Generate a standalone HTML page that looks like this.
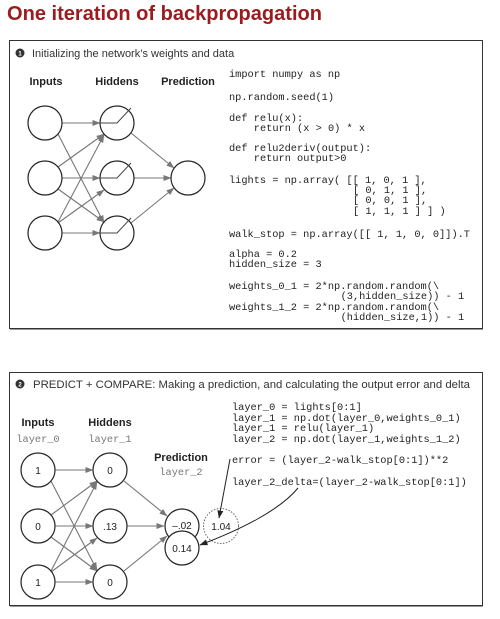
<!DOCTYPE html>
<html><head><meta charset="utf-8"><style>
html,body{margin:0;padding:0;background:#fff;}
svg{display:block;}
.m{font-family:"Liberation Mono",monospace;font-size:10.3px;fill:#222;}
.s{font-family:"Liberation Sans",sans-serif;}
</style></head><body>
<svg width="500" height="619" viewBox="0 0 500 619" xmlns="http://www.w3.org/2000/svg">
<defs>
<marker id="a" markerWidth="8" markerHeight="6" refX="7.5" refY="3" orient="auto" markerUnits="userSpaceOnUse">
<path d="M0,0 L8,3 L0,6 z" fill="#777"/></marker>
<marker id="b" markerWidth="8" markerHeight="6" refX="7.5" refY="3" orient="auto" markerUnits="userSpaceOnUse">
<path d="M0,0 L8,3 L0,6 z" fill="#222"/></marker>
</defs>
<text x="7" y="20" class="s" font-size="20" font-weight="bold" fill="#9b1c1f" textLength="315" lengthAdjust="spacingAndGlyphs">One iteration of backpropagation</text>

<!-- Box 1 -->
<rect x="9.5" y="40.5" width="473" height="288" fill="none" stroke="#333" stroke-width="1"/>
<line x1="10" y1="329.5" x2="483" y2="329.5" stroke="#999" stroke-width="1"/>
<circle cx="20" cy="53" r="4.5" fill="#333"/><text x="20" y="55.5" font-size="6" fill="#fff" text-anchor="middle" class="s" font-weight="bold">1</text>
<text x="32" y="57" class="s" font-size="11" fill="#333">Initializing the network’s weights and data</text>
<g class="s" font-size="11" font-weight="bold" fill="#222" text-anchor="middle">
<text x="46" y="85">Inputs</text><text x="117" y="85">Hiddens</text><text x="188" y="85">Prediction</text></g>
<g stroke="#777" stroke-width="1.1" marker-end="url(#a)">
<line x1="62" y1="123" x2="100" y2="123"/>
<line x1="58" y1="134" x2="104" y2="223"/>
<line x1="58" y1="167" x2="104" y2="134"/>
<line x1="62" y1="178" x2="100" y2="178"/>
<line x1="58" y1="189" x2="104" y2="222"/>
<line x1="58" y1="222" x2="104" y2="135"/>
<line x1="58" y1="223" x2="104" y2="190"/>
<line x1="62" y1="233" x2="100" y2="233"/>
<line x1="131" y1="133" x2="174" y2="168"/>
<line x1="134" y1="178" x2="171" y2="178"/>
<line x1="131" y1="223" x2="174" y2="188"/>
</g>
<g fill="none" stroke="#222" stroke-width="1.2">
<circle cx="45" cy="123" r="17"/><circle cx="45" cy="178" r="17"/><circle cx="45" cy="233" r="17"/>
<circle cx="117" cy="123" r="17"/><circle cx="117" cy="178" r="17"/><circle cx="117" cy="233" r="17"/>
<circle cx="188" cy="178" r="17"/>
</g>
<g fill="none" stroke="#444" stroke-width="1">
<path d="M100,123 H117 L131,108"/><path d="M100,178 H117 L131,163"/><path d="M100,233 H117 L131,218"/>
</g>
<g class="m">
<text x="229" y="77">import numpy as np</text>
<text x="229" y="100">np.random.seed(1)</text>
<text x="229" y="121">def relu(x):</text>
<text x="253.8" y="131">return (x &gt; 0) * x</text>
<text x="229" y="151">def relu2deriv(output):</text>
<text x="253.8" y="161">return output&gt;0</text>
<text x="229" y="183">lights = np.array( [[ 1, 0, 1 ],</text>
<text x="353" y="193">[ 0, 1, 1 ],</text>
<text x="353" y="203">[ 0, 0, 1 ],</text>
<text x="353" y="214">[ 1, 1, 1 ] ] )</text>
<text x="229" y="237">walk_stop = np.array([[ 1, 1, 0, 0]]).T</text>
<text x="229" y="257">alpha = 0.2</text>
<text x="229" y="267">hidden_size = 3</text>
<text x="229" y="289">weights_0_1 = 2*np.random.random(\</text>
<text x="340.6" y="299">(3,hidden_size)) - 1</text>
<text x="229" y="310">weights_1_2 = 2*np.random.random(\</text>
<text x="340.6" y="320">(hidden_size,1)) - 1</text>
</g>

<!-- Box 2 -->
<rect x="9.5" y="372.5" width="473" height="233" fill="none" stroke="#333" stroke-width="1"/>
<line x1="10" y1="606.5" x2="483" y2="606.5" stroke="#999" stroke-width="1"/>
<circle cx="20" cy="384" r="4.5" fill="#333"/><text x="20" y="386.5" font-size="6" fill="#fff" text-anchor="middle" class="s" font-weight="bold">2</text>
<text x="33" y="388" class="s" font-size="11" fill="#333" textLength="437" lengthAdjust="spacingAndGlyphs">PREDICT + COMPARE: Making a prediction, and calculating the output error and delta</text>
<g class="s" font-size="11" font-weight="bold" fill="#222" text-anchor="middle">
<text x="38" y="426">Inputs</text><text x="110" y="426">Hiddens</text><text x="181" y="461">Prediction</text></g>
<g class="m" text-anchor="middle" style="fill:#777">
<text x="38" y="442">layer_0</text><text x="110" y="442">layer_1</text><text x="181" y="475">layer_2</text></g>
<g stroke="#777" stroke-width="1.1" marker-end="url(#a)">
<line x1="55" y1="470" x2="93" y2="470"/>
<line x1="51" y1="481" x2="97" y2="570"/>
<line x1="51" y1="515" x2="97" y2="481"/>
<line x1="55" y1="526" x2="93" y2="526"/>
<line x1="51" y1="537" x2="97" y2="571"/>
<line x1="51" y1="571" x2="97" y2="482"/>
<line x1="51" y1="572" x2="97" y2="538"/>
<line x1="55" y1="582" x2="93" y2="582"/>
<line x1="124" y1="481" x2="167" y2="516"/>
<line x1="127" y1="526" x2="164" y2="526"/>
<line x1="124" y1="571" x2="167" y2="536"/>
</g>
<g fill="#fff" stroke="#222" stroke-width="1.2">
<circle cx="38" cy="470" r="17"/><circle cx="38" cy="526" r="17"/><circle cx="38" cy="582" r="17"/>
<circle cx="110" cy="470" r="17"/><circle cx="110" cy="526" r="17"/><circle cx="110" cy="582" r="17"/>
<circle cx="182" cy="526" r="17"/><circle cx="182" cy="548" r="17"/>
</g>
<circle cx="221" cy="526" r="17.5" fill="none" stroke="#666" stroke-width="1" stroke-dasharray="1.5,1.5"/>
<g class="s" font-size="10" fill="#222" text-anchor="middle">
<text x="38" y="474">1</text><text x="38" y="530">0</text><text x="38" y="586">1</text>
<text x="110" y="474">0</text><text x="110" y="530">.13</text><text x="110" y="586">0</text>
<text x="182" y="529">–.02</text><text x="182" y="552">0.14</text><text x="221" y="530">1.04</text>
</g>
<g fill="none" stroke="#222" stroke-width="1">
<path d="M230,459 L219,518" marker-end="url(#b)"/>
<path d="M298,488 C280,510 240,530 200,545" marker-end="url(#b)"/>
</g>
<g class="m">
<text x="232" y="410">layer_0 = lights[0:1]</text>
<text x="232" y="421">layer_1 = np.dot(layer_0,weights_0_1)</text>
<text x="232" y="431">layer_1 = relu(layer_1)</text>
<text x="232" y="442">layer_2 = np.dot(layer_1,weights_1_2)</text>
<text x="232" y="463">error = (layer_2-walk_stop[0:1])**2</text>
<text x="232" y="485">layer_2_delta=(layer_2-walk_stop[0:1])</text>
</g>
</svg>
</body></html>
